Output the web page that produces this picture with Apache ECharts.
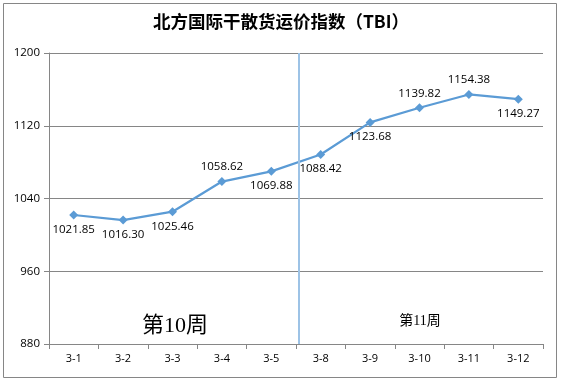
<!DOCTYPE html>
<html><head><meta charset="utf-8">
<script src="https://cdn.jsdelivr.net/npm/echarts@6/dist/echarts.min.js"></script>
<style>html,body{margin:0;padding:0;background:#fff}#c{width:562px;height:383px}</style>
</head><body><div id="c"></div>
<script>
const categories = ['3-1','3-2','3-3','3-4','3-5','3-8','3-9','3-10','3-11','3-12'];
const values = [1021.85,1016.30,1025.46,1058.62,1069.88,1088.42,1123.68,1139.82,1154.38,1149.27];
const labelPlacement = ['bottom','bottom','bottom','top','bottom','bottom','bottom','top','top','bottom'];
const yTicks = [880, 960, 1040, 1120, 1200];
const weekDivider = 5.05; // boundary between week 10 and week 11 (category index)
const titleText = '北方国际干散货运价指数（TBI）';
const week10 = '第10周';
const week11 = '第11周';

const chart = echarts.init(document.getElementById('c'), null, {renderer:'canvas'});
const gridColor = '#868686';
chart.setOption({
  animation:false,
  title:{text:titleText,left:'center',top:8,
    textStyle:{fontFamily:'"Noto Sans CJK SC"',fontSize:17.5,fontWeight:'bold',color:'#000'}},
  grid:{left:49,right:19,top:53,bottom:39},
  xAxis:[{
    type:'category',data:categories,boundaryGap:true,
    axisLine:{lineStyle:{color:gridColor,width:1}},
    axisTick:{show:true,length:5,alignWithLabel:false,lineStyle:{color:gridColor}},
    axisLabel:{color:'#000',fontFamily:'"Open Sans"',fontSize:11,margin:9}
  },{
    type:'value',min:0,max:categories.length,show:false
  }],
  yAxis:{
    type:'value',min:yTicks[0],max:yTicks[yTicks.length-1],interval:80,
    axisLine:{show:true,lineStyle:{color:gridColor,width:1}},
    axisTick:{show:true,length:5,lineStyle:{color:gridColor}},
    axisLabel:{color:'#000',fontFamily:'"Open Sans"',fontSize:11.5,margin:9,formatter:v=>String(v)},
    splitLine:{lineStyle:{color:gridColor,width:1}}
  },
  series:[{
    type:'line',data:values.map((v,i)=>({value:v,label:{position:labelPlacement[i]}})),
    symbol:'diamond',symbolSize:9,
    lineStyle:{color:'#5B9BD5',width:2.25},
    itemStyle:{color:'#5B9BD5'},
    label:{show:true,color:'#000',fontFamily:'"Open Sans"',fontSize:11.5,distance:4,
      formatter:p=>p.value.toFixed(2)}
  },{
    type:'line',xAxisIndex:1,data:[],symbol:'none',
    markLine:{silent:true,symbol:'none',label:{show:false},
      lineStyle:{color:'#9DC3E6',width:2,type:'solid'},
      data:[{xAxis:weekDivider}]}
  }],
  graphic:[
    {type:'rect',shape:{x:3.5,y:3.5,width:553,height:374},style:{fill:'none',stroke:'#868686',lineWidth:1}},
    {type:'text',x:175,y:326,style:{text:week10,font:'22px "Liberation Serif","Noto Sans CJK SC"',fill:'#000',textAlign:'center',textVerticalAlign:'middle'}},
    {type:'text',x:420,y:321,style:{text:week11,font:'14px "Liberation Serif","Noto Sans CJK SC"',fill:'#000',textAlign:'center',textVerticalAlign:'middle'}}
  ]
});
</script></body></html>
